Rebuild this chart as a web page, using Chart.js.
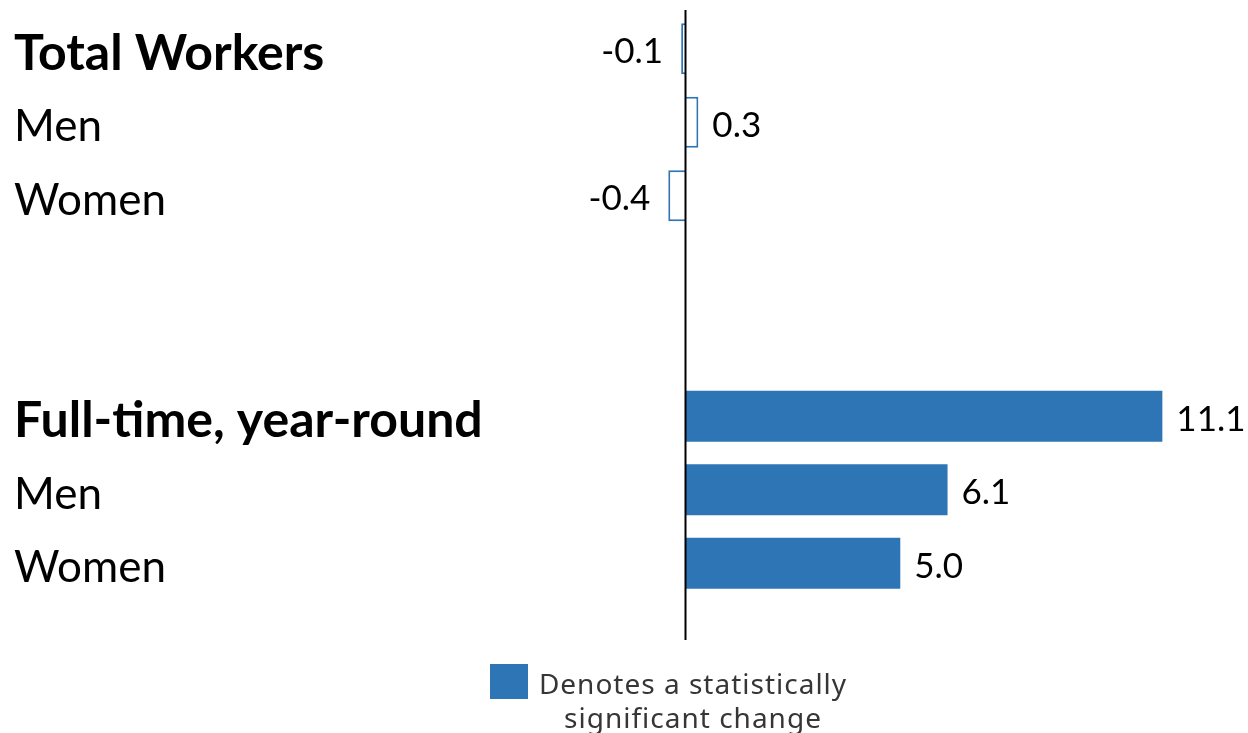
<!DOCTYPE html>
<html>
<head>
<meta charset="utf-8">
<script src="https://cdn.jsdelivr.net/npm/chart.js@4.4.0/dist/chart.umd.min.js"></script>
<style>
  html, body { margin: 0; padding: 0; background: #fff; }
</style>
</head>
<body>
<canvas id="chart" width="1248" height="733"></canvas>
<script>
// row labels, top to bottom (two blank rows separate the groups)
const categories = ['Total Workers', 'Men', 'Women', '', '', 'Full-time, year-round', 'Men', 'Women'];
const headerRows = [true, false, false, false, false, true, false, false];
// change in earnings, percent
const changes = [-0.1, 0.3, -0.4, null, null, 11.1, 6.1, 5.0];
const significant = [false, false, false, false, false, true, true, true];
const legendText = ['Denotes a statistically', 'significant change'];

const blue = '#2E75B6';

// zero line, runs a bit below the last bar like the original
const zeroLine = {
    id: 'zeroLine',
    afterDatasetsDraw(chart) {
        const ctx = chart.ctx;
        const x = Math.round(chart.scales.x.getPixelForValue(0)) + 0.5;
        const area = chart.chartArea;
        ctx.save();
        ctx.strokeStyle = '#000';
        ctx.lineWidth = 2;
        ctx.beginPath();
        ctx.moveTo(x, area.top - 2);
        ctx.lineTo(x, area.bottom + 40);
        ctx.stroke();
        ctx.restore();
    }
};

const valueLabels = {
    id: 'valueLabels',
    afterDatasetsDraw(chart) {
        const ctx = chart.ctx;
        const meta = chart.getDatasetMeta(0);
        ctx.save();
        ctx.font = '35px Lato';
        ctx.fillStyle = '#000';
        ctx.textBaseline = 'middle';
        meta.data.forEach((bar, i) => {
            const v = changes[i];
            if (v === null) return;
            if (v >= 0) {
                ctx.textAlign = 'left';
                ctx.fillText(v.toFixed(1), bar.x + 14, bar.y + 3);
            } else {
                ctx.textAlign = 'right';
                ctx.fillText(v.toFixed(1), bar.x - 18, bar.y + 3);
            }
        });
        ctx.restore();
    }
};

// note box under the chart
const noteBox = {
    id: 'noteBox',
    afterDraw(chart) {
        const ctx = chart.ctx;
        ctx.save();
        ctx.fillStyle = blue;
        ctx.fillRect(490, 664, 38, 35);
        ctx.fillStyle = '#363636';
        ctx.font = '28px "Noto Sans"';
        ctx.letterSpacing = '1px';
        ctx.textAlign = 'center';
        ctx.textBaseline = 'alphabetic';
        ctx.fillText(legendText[0], 693, 694);
        ctx.fillText(legendText[1], 693, 728);
        ctx.restore();
    }
};

new Chart(document.getElementById('chart'), {
    type: 'bar',
    data: {
        labels: categories,
        datasets: [{
            data: changes,
            backgroundColor: ctx => significant[ctx.dataIndex] ? blue : '#fff',
            borderColor: blue,
            borderWidth: ctx => significant[ctx.dataIndex] ? 0 : 2,
            barPercentage: 0.694,
            categoryPercentage: 1
        }]
    },
    options: {
        indexAxis: 'y',
        responsive: false,
        animation: false,
        layout: { padding: { left: 14, right: 4, top: 12, bottom: 133 } },
        plugins: {
            legend: { display: false },
            tooltip: { enabled: false }
        },
        scales: {
            x: { display: false, min: -1, max: 13 },
            y: {
                grid: { display: false, drawTicks: false },
                border: { display: false },
                afterFit: s => {
                    s.width = 628.5;
                    s.paddingTop = 0;
                    s.paddingBottom = 0;
                },
                ticks: {
                    crossAlign: 'far',
                    autoSkip: false,
                    padding: 0,
                    labelOffset: 5,
                    color: '#000',
                    font: ctx => ({
                        family: 'Lato',
                        size: headerRows[ctx.index] ? 50 : 44,
                        weight: headerRows[ctx.index] ? 'bold' : 'normal'
                    })
                }
            }
        }
    },
    plugins: [zeroLine, valueLabels, noteBox]
});
</script>
</body>
</html>
